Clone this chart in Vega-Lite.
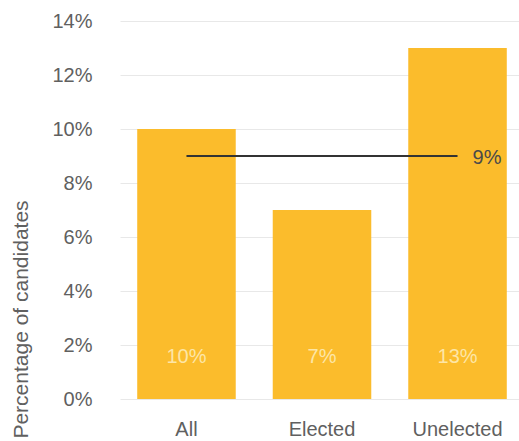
{
  "$schema": "https://vega.github.io/schema/vega-lite/v6.json",
  "autosize": "none",
  "width": 404,
  "height": 378,
  "padding": {"left": 120, "top": 21, "right": 0, "bottom": 42},
  "background": "white",
  "config": {
    "view": {"stroke": null},
    "font": "Liberation Sans",
    "axis": {"labelFont": "Liberation Sans", "titleFont": "Liberation Sans"}
  },
  "datasets": {
    "bars": [
      {"group": "All", "share": 0.10, "label": "10%"},
      {"group": "Elected", "share": 0.07, "label": "7%"},
      {"group": "Unelected", "share": 0.13, "label": "13%"}
    ],
    "avg": [
      {"from": "All", "to": "Unelected", "share": 0.09, "label": "9%"}
    ]
  },
  "resolve": {"scale": {"y": "shared"}},
  "layer": [
    {
      "data": {"name": "bars"},
      "mark": {"type": "bar", "color": "#FBBC2C"},
      "encoding": {
        "x": {
          "field": "group", "type": "nominal", "sort": null,
          "scale": {"paddingInner": 0.273, "paddingOuter": 0.127},
          "axis": {"title": null, "ticks": false, "domain": false, "labelAngle": 0, "labelFontSize": 20, "labelColor": "#606060", "labelPadding": 20}
        },
        "y": {
          "field": "share", "type": "quantitative",
          "scale": {"domain": [0, 0.14], "nice": false, "zero": true},
          "axis": {
            "title": "Percentage of candidates", "titleFontSize": 21, "titleFontWeight": "normal", "titleColor": "#606060",
            "titleAngle": -90, "titleX": -93, "titleY": 298, "titleAlign": "center", "titleBaseline": "alphabetic",
            "values": [0, 0.02, 0.04, 0.06, 0.08, 0.1, 0.12, 0.14], "format": ".0%",
            "ticks": false, "domain": false, "labelFontSize": 20, "labelColor": "#606060", "labelPadding": 28,
            "gridColor": "#e8e8e8", "gridWidth": 1
          }
        }
      }
    },
    {
      "data": {"name": "bars"},
      "mark": {"type": "text", "fontSize": 20, "color": "#FDE6A6", "baseline": "alphabetic", "dy": -36},
      "encoding": {
        "x": {"field": "group", "type": "nominal", "sort": null},
        "y": {"datum": 0, "type": "quantitative", "scale": {"domain": [0, 0.14], "nice": false}},
        "text": {"field": "label"}
      }
    },
    {
      "data": {"name": "avg"},
      "mark": {"type": "rule", "color": "#333333", "strokeWidth": 2},
      "encoding": {
        "x": {"field": "from", "type": "nominal", "sort": null},
        "x2": {"field": "to"},
        "y": {"field": "share", "type": "quantitative", "scale": {"domain": [0, 0.14], "nice": false}}
      }
    },
    {
      "data": {"name": "avg"},
      "mark": {"type": "text", "fontSize": 20, "color": "#4a4a4a", "align": "left", "baseline": "middle", "dx": 15, "dy": 2},
      "encoding": {
        "x": {"field": "to", "type": "nominal", "sort": null},
        "y": {"field": "share", "type": "quantitative", "scale": {"domain": [0, 0.14], "nice": false}},
        "text": {"field": "label"}
      }
    }
  ]
}
